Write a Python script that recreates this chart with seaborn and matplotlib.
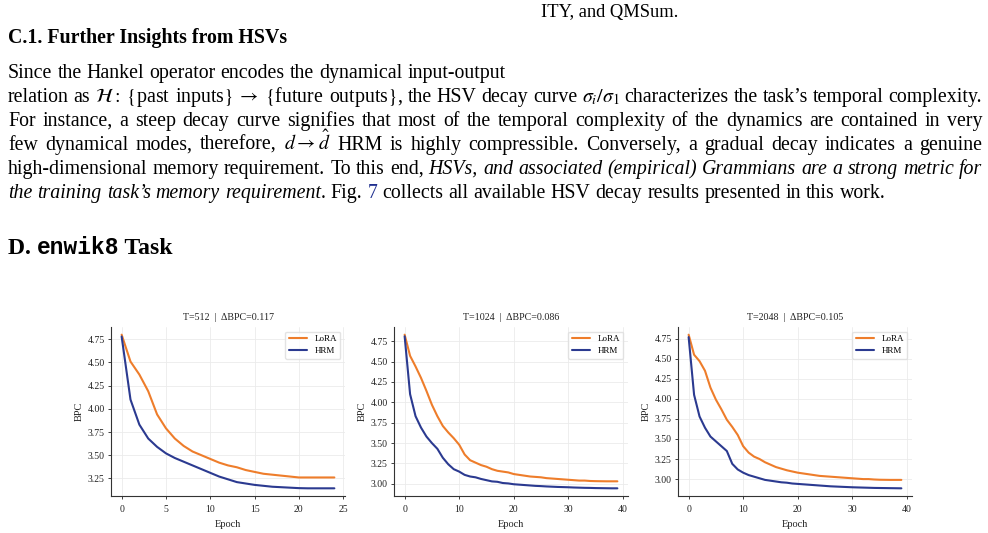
import matplotlib
matplotlib.use("Agg")
import matplotlib.pyplot as plt
from matplotlib.ticker import MultipleLocator
from matplotlib.transforms import IdentityTransform
import seaborn as sns
import pandas as pd

# ---- data ----
titles = ["T=512  |  \u0394BPC=0.117", "T=1024  |  \u0394BPC=0.086", "T=2048  |  \u0394BPC=0.105"]

lora_512 = [4.80, 4.51, 4.37, 4.19, 3.94, 3.79, 3.68, 3.60, 3.54, 3.50, 3.46, 3.42, 3.39,
            3.37, 3.34, 3.32, 3.30, 3.29, 3.28, 3.27, 3.26, 3.26, 3.26, 3.26, 3.26]
hrm_512 = [4.78, 4.10, 3.83, 3.68, 3.59, 3.52, 3.47, 3.43, 3.39, 3.35, 3.31, 3.27, 3.24,
           3.21, 3.195, 3.18, 3.17, 3.16, 3.155, 3.15, 3.145, 3.143, 3.143, 3.143, 3.143]

lora_1024 = [4.83, 4.57, 4.44, 4.30, 4.14, 3.97, 3.83, 3.71, 3.63, 3.56, 3.48, 3.36, 3.29,
             3.26, 3.23, 3.21, 3.18, 3.16, 3.15, 3.14, 3.12, 3.11, 3.10, 3.09, 3.085, 3.08,
             3.07, 3.065, 3.06, 3.055, 3.05, 3.045, 3.04, 3.04, 3.035, 3.033, 3.032, 3.031,
             3.031, 3.031]
hrm_1024 = [4.81, 4.10, 3.83, 3.69, 3.58, 3.50, 3.43, 3.32, 3.24, 3.18, 3.15, 3.11, 3.09,
            3.08, 3.06, 3.045, 3.03, 3.025, 3.01, 3.005, 2.995, 2.99, 2.985, 2.98, 2.975,
            2.972, 2.968, 2.965, 2.962, 2.96, 2.958, 2.955, 2.953, 2.951, 2.95, 2.948,
            2.947, 2.946, 2.945, 2.945]

lora_2048 = [4.80, 4.55, 4.47, 4.35, 4.14, 3.99, 3.87, 3.74, 3.65, 3.55, 3.41, 3.33, 3.28,
             3.25, 3.21, 3.18, 3.15, 3.13, 3.11, 3.095, 3.08, 3.07, 3.06, 3.05, 3.04, 3.035,
             3.03, 3.025, 3.02, 3.015, 3.01, 3.005, 3.0, 3.0, 2.995, 2.992, 2.991, 2.99,
             2.99, 2.99]
hrm_2048 = [4.77, 4.05, 3.78, 3.64, 3.53, 3.47, 3.41, 3.35, 3.19, 3.12, 3.08, 3.05, 3.03,
            3.01, 2.99, 2.98, 2.97, 2.96, 2.955, 2.945, 2.94, 2.935, 2.93, 2.925, 2.92,
            2.915, 2.91, 2.907, 2.904, 2.901, 2.898, 2.896, 2.894, 2.892, 2.89, 2.889,
            2.888, 2.887, 2.886, 2.885]

runs = [(lora_512, hrm_512), (lora_1024, hrm_1024), (lora_2048, hrm_2048)]
x_steps = [5, 10, 10]
palette = {"LoRA": "#ee7d2b", "HRM": "#2b3a90"}

# ---- page text (the paper around the figure) ----
# no literal spaces inside $...$: lines are split into words on spaces
para = [
    ([("Since the Hankel operator encodes the dynamical input-output", "n")], False),
    ([(r"relation as $\mathcal{H}:\;\{$past inputs$\}\;\rightarrow\;\{$future outputs$\}$, the HSV "
       r"decay curve $\sigma_i/\sigma_1$ characterizes the task" + "\u2019s temporal complexity.", "n")], True),
    ([("For instance, a steep decay curve signifies that most of the temporal complexity of "
       "the dynamics are contained in very", "n")], True),
    ([(r"few dynamical modes, therefore, $d\rightarrow\hat{d}$ HRM is highly compressible. "
       "Conversely, a gradual decay indicates a genuine", "n")], True),
    ([("high-dimensional memory requirement. To this end, ", "n"),
      ("HSVs, and associated (empirical) Grammians are a strong metric for", "i")], True),
    ([("the training task\u2019s memory requirement", "i"), (". Fig. ", "n"), ("7", "link"),
      (" collects all available HSV decay results presented in this work.", "n")], False),
]

sns.set_theme(style="ticks")
plt.rcParams["font.family"] = ["Liberation Serif", "DejaVu Serif"]
plt.rcParams["mathtext.fontset"] = "stix"
plt.rcParams["text.color"] = "black"

fig = plt.figure(figsize=(9.88, 5.33), dpi=100)
px = IdentityTransform()
H = 533
body_fs = 14.3


def words_of(segs):
    words = []
    glue = False
    for text, style in segs:
        parts = text.split(" ")
        for k, p in enumerate(parts):
            if p == "":
                continue
            if k == 0 and glue and words:
                words[-1].append((p, style))
            else:
                words.append([(p, style)])
        glue = not text.endswith(" ")
    return words


def piece_kw(style):
    kw = dict(fontsize=body_fs, color="black")
    if style == "i":
        kw["fontstyle"] = "italic"
    if style == "link":
        kw["color"] = "#1f2f8f"
    return kw


renderer = fig.canvas.get_renderer()


def text_width(s, **kw):
    t = fig.text(0, 0, s, transform=px, **kw)
    w = t.get_window_extent(renderer).width
    t.remove()
    return w


def draw_line(segs, y, justify, x0=8, x1=982):
    # lay out word by word so full lines can be justified like the page
    words = words_of(segs)
    placed = []
    widths = []
    for w in words:
        ww = 0
        items = []
        for p, style in w:
            t = fig.text(0, 0, p, transform=px, va="baseline", **piece_kw(style))
            wd = t.get_window_extent(renderer).width
            items.append((t, ww))
            ww += wd
        placed.append(items)
        widths.append(ww)
    sp = text_width("a b", fontsize=body_fs) - text_width("ab", fontsize=body_fs)
    if justify and len(words) > 1:
        gap = (x1 - x0 - sum(widths)) / (len(words) - 1)
    else:
        gap = sp
    x = x0
    for items, ww in zip(placed, widths):
        for t, off in items:
            t.set_position((x + off, y))
        x += ww + gap


fig.text(541, H - 17, "ITY, and QMSum.", transform=px, fontsize=13.3, va="baseline",
         color="black")
fig.text(8, H - 43, "C.1. Further Insights from HSVs", transform=px, fontsize=14.3,
         fontweight="bold", va="baseline", color="black")
for i, (segs, just) in enumerate(para):
    draw_line(segs, H - (78 + 24 * i), just)
t1 = fig.text(8, H - 254, "D. ", transform=px, fontsize=17, fontweight="bold",
              va="baseline", color="black")
w1 = t1.get_window_extent(renderer).width
t2 = fig.text(8 + w1, H - 254, "enwik8", transform=px, fontsize=16.5, fontweight="bold",
              family=["Liberation Mono", "DejaVu Sans Mono"], va="baseline", color="black")
w2 = t2.get_window_extent(renderer).width
fig.text(8 + w1 + w2, H - 254, " Task", transform=px, fontsize=17, fontweight="bold",
         va="baseline", color="black")

# ---- the three panels ----
lefts = [111, 394, 678]
for i, (lora, hrm) in enumerate(runs):
    ax = fig.add_axes([lefts[i] / 988, (533 - 496) / 533, 234 / 988, 169 / 533])
    df = pd.DataFrame({
        "Epoch": list(range(len(lora))) * 2,
        "BPC": lora + hrm,
        "method": ["LoRA"] * len(lora) + ["HRM"] * len(hrm),
    })
    sns.lineplot(data=df, x="Epoch", y="BPC", hue="method", palette=palette,
                 linewidth=1.5, ax=ax)
    ax.grid(True, color="#ebebeb", linewidth=0.6)
    ax.set_axisbelow(True)
    sns.despine(ax=ax)
    for s in ["left", "bottom"]:
        ax.spines[s].set_color("#333333")
        ax.spines[s].set_linewidth(0.8)
    ax.xaxis.set_major_locator(MultipleLocator(x_steps[i]))
    ax.yaxis.set_major_locator(MultipleLocator(0.25))
    ax.yaxis.set_major_formatter(plt.FormatStrFormatter("%.2f"))
    ax.tick_params(labelsize=7, length=2.5, width=0.6, pad=2, colors="#222222")
    ax.tick_params(axis="x", pad=4)
    ax.set_xlabel("Epoch", fontsize=7.5, labelpad=4, color="#222222")
    ax.set_ylabel("BPC", fontsize=7.5, labelpad=3, color="#222222")
    ax.set_title(titles[i], fontsize=7.2, pad=5, color="#222222")
    handles, labels = ax.get_legend_handles_labels()
    ax.legend(handles, labels, loc="upper right", fontsize=6.5, frameon=True,
              edgecolor="#dddddd", handlelength=2, borderpad=0.4, labelspacing=0.4)

fig.savefig("out.png", dpi=100)
